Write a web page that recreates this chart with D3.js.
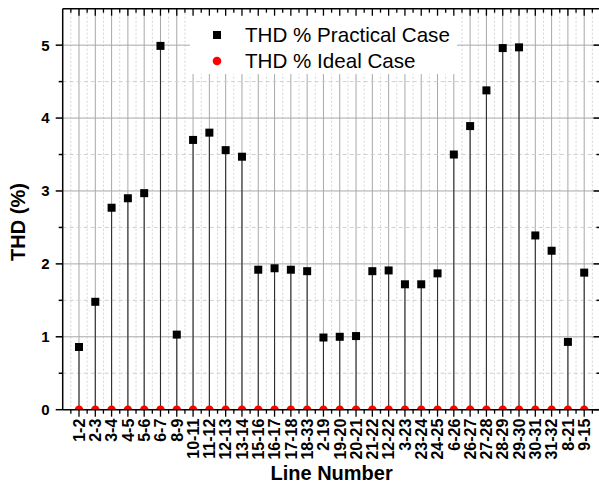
<!DOCTYPE html>
<html>
<head>
<meta charset="utf-8">
<script src="https://cdn.jsdelivr.net/npm/d3@7"></script>
<style>
  html, body { margin: 0; padding: 0; background: #fff; }
  svg { display: block; font-family: Arial, "Liberation Sans", sans-serif; }
</style>
</head>
<body>
<svg id="chart" width="599" height="485"></svg>
<script>
// Line segments of the network (x categories)
const lines = ["1-2","2-3","3-4","4-5","5-6","6-7","8-9","10-11","11-12","12-13","13-14",
  "15-16","16-17","17-18","18-33","2-19","19-20","20-21","21-22","12-22","3-23","23-24",
  "24-25","6-26","26-27","27-28","28-29","29-30","30-31","31-32","8-21","9-15"];

// THD (%) with practical (non-ideal) supply
const thdPractical = [0.86,1.48,2.77,2.90,2.97,4.99,1.03,3.70,3.80,3.56,3.47,
  1.92,1.94,1.92,1.90,0.99,1.00,1.01,1.90,1.91,1.72,1.72,
  1.87,3.50,3.89,4.38,4.96,4.97,2.39,2.18,0.93,1.88];

// THD (%) with ideal supply
const thdIdeal = [0,0,0,0,0,0,0,0,0,0,0,0,0,0,0,0,0,0,0,0,0,0,0,0,0,0,0,0,0,0,0,0];

const yMajorTicks = [0,1,2,3,4,5];
const yMinorTicks = [0.5,1.5,2.5,3.5,4.5];

const legendLabels = ["THD % Practical Case", "THD % Ideal Case"];

const svg = d3.select("#chart");
const L = 62.7, R = 600.5, T = 8.7, B = 409.7;

const x = d3.scaleLinear().domain([0, lines.length + 1]).range([L, R]);
const y = d3.scaleLinear().domain([0, 5.5]).range([B, T]);

const idx = d3.range(1, lines.length + 1);
const minorX = d3.range(0.5, lines.length + 1, 1);

svg.append("defs").append("clipPath").attr("id", "plotClip")
  .append("rect").attr("x", L).attr("y", T).attr("width", R - L).attr("height", B - T);

// grid
const grid = svg.append("g");
grid.selectAll(".vminor").data(minorX).join("line")
  .attr("x1", d => x(d)).attr("x2", d => x(d)).attr("y1", T).attr("y2", B)
  .attr("stroke", "#d4d4d4").attr("stroke-width", 1).attr("stroke-dasharray", "2,2");
grid.selectAll(".vmajor").data(idx).join("line")
  .attr("x1", d => x(d)).attr("x2", d => x(d)).attr("y1", T).attr("y2", B)
  .attr("stroke", "#a8a8a8").attr("stroke-width", 1);
grid.selectAll(".hminor").data(yMinorTicks).join("line")
  .attr("x1", L).attr("x2", R).attr("y1", d => y(d)).attr("y2", d => y(d))
  .attr("stroke", "#cfcfcf").attr("stroke-width", 1).attr("stroke-dasharray", "4,3");
grid.selectAll(".hmajor").data(yMajorTicks.filter(v => v > 0)).join("line")
  .attr("x1", L).attr("x2", R).attr("y1", d => y(d)).attr("y2", d => y(d))
  .attr("stroke", "#a8a8a8").attr("stroke-width", 1);

// legend backdrop
svg.append("rect").attr("x", 190).attr("y", T).attr("width", 267).attr("height", 74 - T)
  .attr("fill", "#fff");

// drop lines
svg.append("g").selectAll("line").data(thdPractical).join("line")
  .attr("x1", (d, i) => x(i + 1)).attr("x2", (d, i) => x(i + 1))
  .attr("y1", d => y(d)).attr("y2", y(0))
  .attr("stroke", "#2e2e2e").attr("stroke-width", 1.1);

// practical markers
const sq = 8;
svg.append("g").selectAll("rect").data(thdPractical).join("rect")
  .attr("x", (d, i) => x(i + 1) - sq / 2).attr("y", d => y(d) - sq / 2)
  .attr("width", sq).attr("height", sq).attr("fill", "#000");

// ideal markers
svg.append("g").attr("clip-path", "url(#plotClip)")
  .selectAll("circle").data(thdIdeal).join("circle")
  .attr("cx", (d, i) => x(i + 1)).attr("cy", d => y(d)).attr("r", 4.3)
  .attr("fill", "#ff0000");

// axes
const axisColor = "#000";
// bottom
const axBottom = svg.append("g").attr("transform", `translate(0,${B})`);
axBottom.append("line").attr("x1", L).attr("x2", R).attr("stroke", axisColor).attr("stroke-width", 1.5);
axBottom.selectAll(".mj").data(idx).join("line")
  .attr("class", "mj")
  .attr("x1", d => x(d)).attr("x2", d => x(d)).attr("y1", 0).attr("y2", 7)
  .attr("stroke", axisColor).attr("stroke-width", 1.3);
axBottom.selectAll(".mn").data(minorX).join("line")
  .attr("class", "mn")
  .attr("x1", d => x(d)).attr("x2", d => x(d)).attr("y1", 0).attr("y2", 4)
  .attr("stroke", axisColor).attr("stroke-width", 1.3);
axBottom.selectAll(".lbl").data(idx).join("text")
  .attr("class", "lbl")
  .attr("transform", d => `translate(${x(d)},9) rotate(-90)`)
  .attr("text-anchor", "end").attr("dy", "0.36em")
  .attr("font-size", 16).attr("font-weight", "bold").attr("fill", "#000")
  .text(d => lines[d - 1]);

// top
const axTop = svg.append("g").attr("transform", `translate(0,${T})`);
axTop.append("line").attr("x1", L).attr("x2", R).attr("stroke", axisColor).attr("stroke-width", 1.5);
axTop.selectAll(".mj").data(idx).join("line")
  .attr("class", "mj")
  .attr("x1", d => x(d)).attr("x2", d => x(d)).attr("y1", 0).attr("y2", 7)
  .attr("stroke", axisColor).attr("stroke-width", 1.3);
axTop.selectAll(".mn").data(minorX).join("line")
  .attr("class", "mn")
  .attr("x1", d => x(d)).attr("x2", d => x(d)).attr("y1", 0).attr("y2", 4)
  .attr("stroke", axisColor).attr("stroke-width", 1.3);

// left
const axLeft = svg.append("g").attr("transform", `translate(${L},0)`);
axLeft.append("line").attr("y1", T).attr("y2", B).attr("stroke", axisColor).attr("stroke-width", 1.5);
axLeft.selectAll(".mj").data(yMajorTicks).join("line")
  .attr("class", "mj")
  .attr("x1", -7).attr("x2", 0).attr("y1", d => y(d)).attr("y2", d => y(d))
  .attr("stroke", axisColor).attr("stroke-width", 1.5);
axLeft.selectAll(".mn").data(yMinorTicks).join("line")
  .attr("class", "mn")
  .attr("x1", -4).attr("x2", 0).attr("y1", d => y(d)).attr("y2", d => y(d))
  .attr("stroke", axisColor).attr("stroke-width", 1.5);
axLeft.selectAll(".lbl").data(yMajorTicks).join("text")
  .attr("class", "lbl")
  .attr("x", -13).attr("y", d => y(d)).attr("dy", "0.36em")
  .attr("text-anchor", "end").attr("font-size", 15).attr("font-weight", "bold")
  .attr("fill", "#000").text(d => d);

// right
const axRight = svg.append("g").attr("transform", `translate(${R},0)`);
axRight.append("line").attr("y1", T).attr("y2", B).attr("stroke", axisColor).attr("stroke-width", 1.5);
axRight.selectAll(".mj").data(yMajorTicks).join("line")
  .attr("class", "mj")
  .attr("x1", -7).attr("x2", 0).attr("y1", d => y(d)).attr("y2", d => y(d))
  .attr("stroke", axisColor).attr("stroke-width", 1.5);
axRight.selectAll(".mn").data(yMinorTicks).join("line")
  .attr("class", "mn")
  .attr("x1", -4).attr("x2", 0).attr("y1", d => y(d)).attr("y2", d => y(d))
  .attr("stroke", axisColor).attr("stroke-width", 1.5);

// axis titles
svg.append("text").attr("transform", `translate(25,222) rotate(-90)`)
  .attr("text-anchor", "middle").attr("font-size", 20).attr("font-weight", "bold")
  .attr("fill", "#000").text("THD (%)");
svg.append("text").attr("x", (L + R) / 2).attr("y", 480)
  .attr("text-anchor", "middle").attr("font-size", 20).attr("font-weight", "bold")
  .attr("fill", "#000").text("Line Number");

// legend
const lg = svg.append("g");
lg.append("rect").attr("x", 217 - 4).attr("y", 35 - 4).attr("width", 8).attr("height", 8).attr("fill", "#000");
lg.append("circle").attr("cx", 217).attr("cy", 61).attr("r", 4.3).attr("fill", "#ff0000");
lg.selectAll("text").data(legendLabels).join("text")
  .attr("x", 245).attr("y", (d, i) => 35 + i * 26).attr("dy", "0.36em")
  .attr("font-size", 20.6).attr("fill", "#000").text(d => d);
</script>
</body>
</html>
